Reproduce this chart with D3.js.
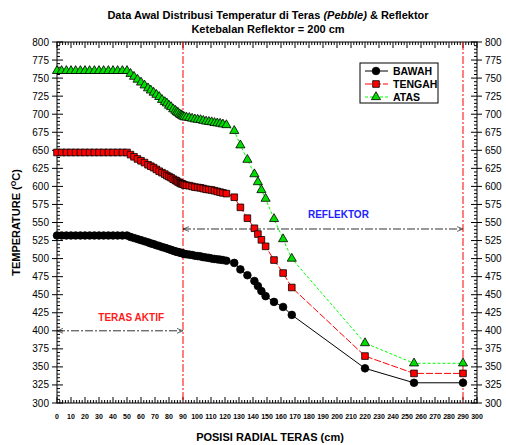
<!DOCTYPE html>
<html>
<head>
<meta charset="utf-8">
<script src="https://cdn.jsdelivr.net/npm/d3@7"></script>
<style>
  body { margin: 0; background: #fff; }
  text { font-family: Arial, "Liberation Sans", sans-serif; }
</style>
</head>
<body>
<svg id="chart" width="506" height="445"></svg>
<script>
// radial positions (cm)
var posisi = [0, 3.3, 6.7, 10, 13.3, 16.7, 20, 23.3, 26.7, 30, 33.3, 36.7, 40, 43.3, 46.7, 50,
  52.5, 55, 57.5, 60, 62.5, 65, 67, 69, 71, 73, 75, 77, 78.5, 80, 81.5, 83, 84.5, 85.5, 86.5, 87.5, 88.5, 89.3, 90,
  91, 92.5, 94.5, 96.5, 98.5, 100.5, 102.5, 104.5, 106.5, 108.5, 110.5, 112.5, 114.5, 116.5, 118.5, 121,
  126.6, 131, 136, 141, 143.5, 146, 149, 155, 161.5, 167.7, 220, 255, 290];

var bawah = [532, 532, 532, 532, 532, 532, 532, 532, 532, 532, 532, 532, 532, 532, 532, 532,
  530, 528.5, 527, 525.5, 524, 522.5, 521, 520, 518.5, 517.5, 516, 515, 514, 513, 512, 511, 510, 509.5, 509, 508.5, 508, 507.5, 507,
  506.5, 506, 505.5, 505, 504, 503.5, 503, 502, 501.5, 501, 500, 499.5, 499, 498.5, 498, 497,
  494, 485, 477, 469, 462, 455, 448, 440, 433, 422, 348, 328, 328];

var tengah = [647, 647, 647, 647, 647, 647, 647, 647, 647, 647, 647, 647, 647, 647, 647, 647,
  644, 641, 638, 635.5, 633, 630, 628, 626, 623.5, 621, 619, 617, 615, 613.5, 612, 610, 608.5, 607.5, 606, 605, 604, 603.5, 603,
  602, 601.5, 601, 600, 599, 598.5, 598, 597, 596, 595.5, 595, 594, 593, 592, 591, 590,
  585, 571, 556, 542, 534, 526, 517, 498, 480, 460, 365, 341, 341];

var atas = [760, 760, 760, 760, 760, 760, 760, 760, 760, 760, 760, 760, 760, 760, 760, 760,
  756, 752, 748, 744, 740, 736, 733, 730, 727, 724, 720, 717, 715, 712, 710, 707, 705, 703, 702, 700, 699, 698, 697,
  696, 695.5, 695, 694, 693, 692.5, 692, 691, 690, 689.5, 689, 688, 687.5, 687, 686, 685,
  677, 657, 637, 617, 606, 595, 583, 555, 527, 500, 383, 355, 355];

var xTicks = d3.range(0, 301, 10);
var yTicks = d3.range(300, 801, 25);

var svg = d3.select("#chart"),
  margin = { top: 42, right: 29, bottom: 42, left: 57 },
  width = 506 - margin.left - margin.right,
  height = 445 - margin.top - margin.bottom;

var x = d3.scaleLinear().domain([0, 300]).range([margin.left, margin.left + width]);
var y = d3.scaleLinear().domain([300, 800]).range([margin.top + height, margin.top]);

// title
svg.append("text")
  .attr("x", 268).attr("y", 19)
  .attr("text-anchor", "middle")
  .style("font-size", "11px").style("font-weight", "bold")
  .html('Data Awal Distribusi Temperatur di Teras <tspan font-style="italic">(Pebble)</tspan> &amp; Reflektor');
svg.append("text")
  .attr("x", 268).attr("y", 33)
  .attr("text-anchor", "middle")
  .style("font-size", "11px").style("font-weight", "bold")
  .text("Ketebalan Reflektor = 200 cm");

// frame
svg.append("rect")
  .attr("x", x(0)).attr("y", y(800))
  .attr("width", x(300) - x(0)).attr("height", y(300) - y(800))
  .attr("fill", "none").attr("stroke", "#000").attr("stroke-width", 1);

// ticks: major inside + outside on y, minor inside
var ticks = svg.append("g").attr("stroke", "#000").attr("stroke-width", 1);
d3.range(0, 301, 2).forEach(function (v) {
  var len = v % 10 === 0 ? 6 : 3;
  ticks.append("line").attr("x1", x(v)).attr("x2", x(v)).attr("y1", y(300)).attr("y2", y(300) - len);
  ticks.append("line").attr("x1", x(v)).attr("x2", x(v)).attr("y1", y(800)).attr("y2", y(800) + len);
});
d3.range(300, 801, 5).forEach(function (v) {
  var major = v % 25 === 0;
  var len = major ? 6 : 3;
  var out = major ? 5 : 0;
  ticks.append("line").attr("x1", x(0) - out).attr("x2", x(0) + len).attr("y1", y(v)).attr("y2", y(v));
  ticks.append("line").attr("x1", x(300) + out).attr("x2", x(300) - len).attr("y1", y(v)).attr("y2", y(v));
});

// tick labels
svg.append("g").selectAll("text").data(xTicks).enter().append("text")
  .attr("x", function (d) { return x(d); })
  .attr("y", y(300) + 16)
  .attr("text-anchor", "middle")
  .style("font-size", "7px").style("font-weight", "bold")
  .text(function (d) { return d; });
svg.append("g").selectAll("text").data(yTicks).enter().append("text")
  .attr("x", x(0) - 8)
  .attr("y", function (d) { return y(d) + 3.5; })
  .attr("text-anchor", "end")
  .style("font-size", "10px")
  .text(function (d) { return d; });
svg.append("g").selectAll("text").data(yTicks).enter().append("text")
  .attr("x", x(300) + 8)
  .attr("y", function (d) { return y(d) + 3.5; })
  .style("font-size", "10px")
  .text(function (d) { return d; });

// axis titles
svg.append("text")
  .attr("x", 270).attr("y", 441)
  .attr("text-anchor", "middle")
  .style("font-size", "11px").style("font-weight", "bold")
  .text("POSISI RADIAL TERAS (cm)");
svg.append("text")
  .attr("transform", "translate(20," + (y(550)) + ") rotate(-90)")
  .attr("text-anchor", "middle")
  .style("font-size", "11px").style("font-weight", "bold")
  .html('TEMPERATURE (<tspan dy="-4" font-size="7px">O</tspan><tspan dy="4">C)</tspan>');

// region boundaries
[90, 290].forEach(function (v) {
  svg.append("line")
    .attr("x1", x(v)).attr("x2", x(v)).attr("y1", y(800)).attr("y2", y(300))
    .attr("stroke", "#ff0000").attr("stroke-width", 1)
    .attr("stroke-dasharray", "8,2,2,2");
});

// double arrows
var defs = svg.append("defs");
defs.append("marker").attr("id", "arr")
  .attr("viewBox", "0 0 10 10").attr("refX", 10).attr("refY", 5)
  .attr("markerWidth", 10).attr("markerHeight", 6).attr("orient", "auto-start-reverse")
  .attr("markerUnits", "userSpaceOnUse")
  .append("path").attr("d", "M0,1 L10,5 L0,9").attr("fill", "none").attr("stroke", "#000").attr("stroke-width", 1);

function arrow(x0, x1, v) {
  svg.append("line")
    .attr("x1", x(x0)).attr("x2", x(x1)).attr("y1", y(v)).attr("y2", y(v))
    .attr("stroke", "#333").attr("stroke-width", 1)
    .attr("stroke-dasharray", "8,2,2,2")
    .attr("marker-start", "url(#arr)").attr("marker-end", "url(#arr)");
}
arrow(0, 90, 400);
arrow(90, 290, 541);

svg.append("text")
  .attr("x", x(53)).attr("y", y(414))
  .attr("text-anchor", "middle")
  .attr("fill", "#ff1a1a")
  .style("font-size", "10px").style("font-weight", "bold")
  .text("TERAS AKTIF");
svg.append("text")
  .attr("x", x(201)).attr("y", y(556))
  .attr("text-anchor", "middle")
  .attr("fill", "#2222ff")
  .style("font-size", "10px").style("font-weight", "bold")
  .text("REFLEKTOR");

// series
var series = [
  { name: "BAWAH", values: bawah, color: "#000", dash: null, symbol: d3.symbolCircle, size: 46, fill: "#000" },
  { name: "TENGAH", values: tengah, color: "#ff0000", dash: "7,2", symbol: d3.symbolSquare, size: 44, fill: "#ff0000" },
  { name: "ATAS", values: atas, color: "#00ff00", dash: "3,2", symbol: d3.symbolTriangle, size: 36, fill: "#00dd00" }
];

var line = d3.line()
  .x(function (d) { return x(d[0]); })
  .y(function (d) { return y(d[1]); });

series.forEach(function (s) {
  var pts = posisi.map(function (p, i) { return [p, s.values[i]]; });
  svg.append("path")
    .datum(pts)
    .attr("d", line)
    .attr("fill", "none")
    .attr("stroke", s.color)
    .attr("stroke-width", 1)
    .attr("stroke-dasharray", s.dash);
  svg.append("g").selectAll("path").data(pts).enter().append("path")
    .attr("d", d3.symbol().type(s.symbol).size(s.size))
    .attr("transform", function (d) { return "translate(" + x(d[0]) + "," + y(d[1]) + ")"; })
    .attr("fill", s.fill)
    .attr("stroke", "#000")
    .attr("stroke-width", 0.8);
});

// legend
var lg = svg.append("g");
lg.append("rect")
  .attr("x", 360).attr("y", 63).attr("width", 78).attr("height", 40)
  .attr("fill", "#fff").attr("stroke", "#000").attr("stroke-width", 1);
series.forEach(function (s, i) {
  var ly = 71 + i * 13;
  lg.append("line")
    .attr("x1", 365).attr("x2", 388).attr("y1", ly).attr("y2", ly)
    .attr("stroke", s.color).attr("stroke-width", 1)
    .attr("stroke-dasharray", s.dash);
  lg.append("path")
    .attr("d", d3.symbol().type(s.symbol).size(s.size))
    .attr("transform", "translate(376," + ly + ")")
    .attr("fill", s.fill).attr("stroke", "#000").attr("stroke-width", 0.8);
  lg.append("text")
    .attr("x", 393).attr("y", ly + 4)
    .style("font-size", "10.5px").style("font-weight", "bold")
    .text(s.name);
});
</script>
</body>
</html>
